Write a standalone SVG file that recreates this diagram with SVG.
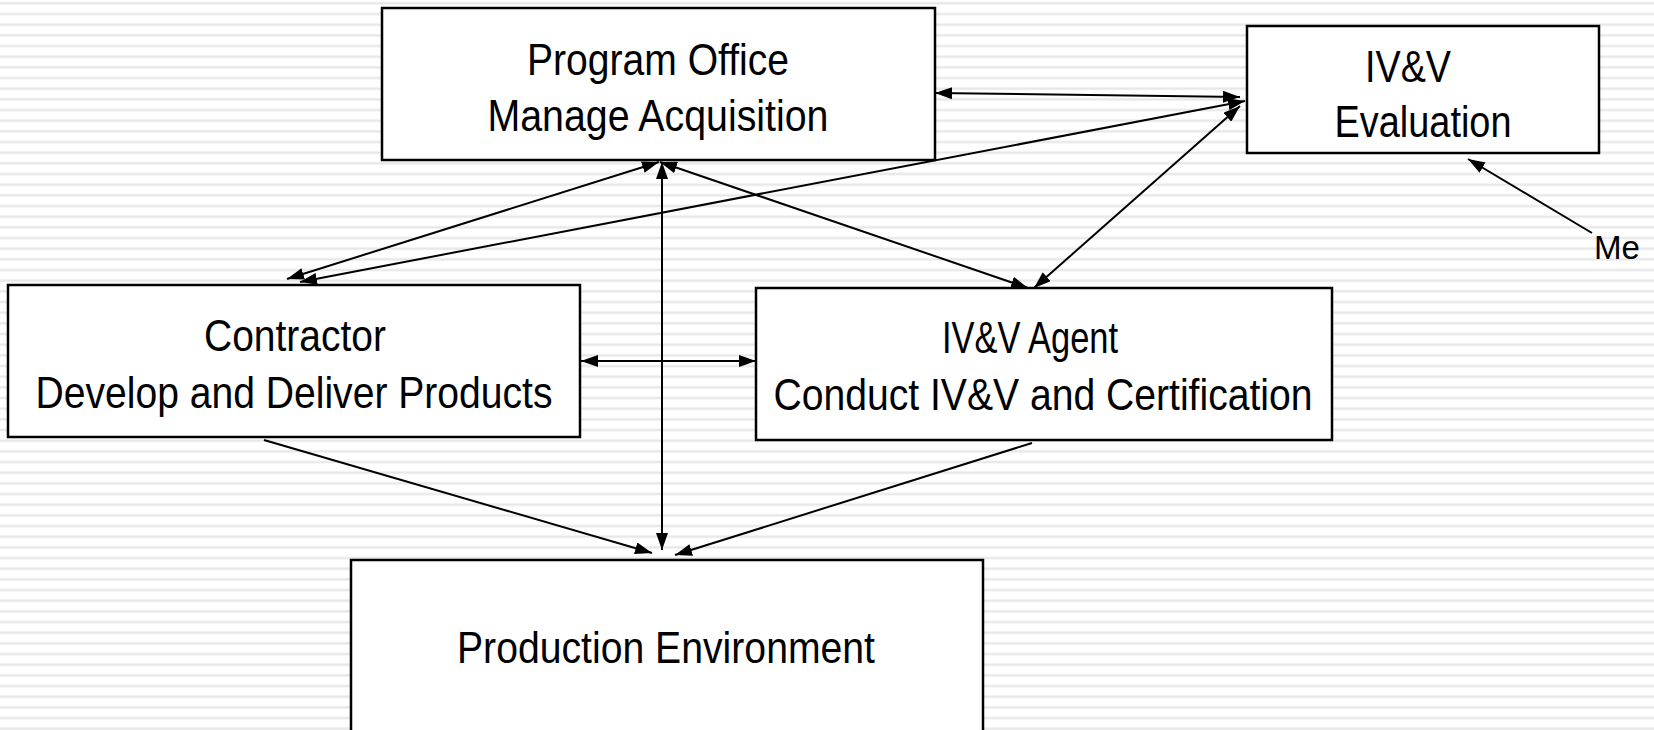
<svg xmlns="http://www.w3.org/2000/svg" width="1654" height="730" viewBox="0 0 1654 730">
<defs>
<pattern id="stripes" x="0" y="0" width="20" height="10.667" patternUnits="userSpaceOnUse">
<rect x="0" y="0" width="20" height="10.667" fill="#ffffff"/>
<rect x="0" y="1.8" width="20" height="3" fill="#f4f4f4"/>
<rect x="0" y="2.6" width="20" height="1.5" fill="#e6e6e6"/>
</pattern>
<marker id="arr" viewBox="0 0 17 12" refX="17" refY="6" markerWidth="17" markerHeight="12" markerUnits="userSpaceOnUse" orient="auto-start-reverse">
<path d="M0,0 L17,6 L0,12 z" fill="#000"/>
</marker>
<style>
.box{fill:#fff;stroke:#000;stroke-width:2.5}
.lbl{font-family:"Liberation Sans Narrow","Liberation Sans",Arial,sans-serif;font-size:45px;fill:#000;text-anchor:middle}
.me{font-family:"Liberation Sans Narrow","Liberation Sans",Arial,sans-serif;font-size:34px;fill:#000}
.c{stroke:#000;stroke-width:2;fill:none}
.both{marker-start:url(#arr);marker-end:url(#arr)}
.end{marker-end:url(#arr)}
</style>
</defs>
<rect x="0" y="0" width="1654" height="730" fill="url(#stripes)"/>

<g id="program-office">
<rect class="box" x="382" y="8" width="553" height="152"/>
<text class="lbl" x="658" y="75" textLength="262" lengthAdjust="spacingAndGlyphs">Program Office</text>
<text class="lbl" x="658" y="131" textLength="341" lengthAdjust="spacingAndGlyphs">Manage Acquisition</text>
</g>

<g id="ivv-evaluation">
<rect class="box" x="1247" y="26" width="352" height="127"/>
<text class="lbl" x="1408" y="82" textLength="86" lengthAdjust="spacingAndGlyphs">IV&amp;V</text>
<text class="lbl" x="1423" y="137" textLength="177" lengthAdjust="spacingAndGlyphs">Evaluation</text>
</g>

<g id="contractor">
<rect class="box" x="8" y="285" width="572" height="152"/>
<text class="lbl" x="295" y="351" textLength="182" lengthAdjust="spacingAndGlyphs">Contractor</text>
<text class="lbl" x="294" y="408" textLength="517" lengthAdjust="spacingAndGlyphs">Develop and Deliver Products</text>
</g>

<g id="ivv-agent">
<rect class="box" x="756" y="288" width="576" height="152"/>
<text class="lbl" x="1030" y="353" textLength="176" lengthAdjust="spacingAndGlyphs">IV&amp;V Agent</text>
<text class="lbl" x="1043" y="410" textLength="539" lengthAdjust="spacingAndGlyphs">Conduct IV&amp;V and Certification</text>
</g>

<g id="production-environment">
<rect class="box" x="351" y="560" width="632" height="175"/>
<text class="lbl" x="666" y="663" textLength="418" lengthAdjust="spacingAndGlyphs">Production Environment</text>
</g>

<g id="me-label">
<text class="me" x="1594" y="259" textLength="46" lengthAdjust="spacingAndGlyphs">Me</text>
</g>

<g id="connectors">
<line class="c both" x1="935" y1="93" x2="1240" y2="97"/>
<line class="c both" x1="300" y1="282" x2="1245" y2="101"/>
<line class="c both" x1="659" y1="162" x2="287" y2="279"/>
<line class="c both" x1="662" y1="162" x2="662" y2="550"/>
<line class="c both" x1="660" y1="162" x2="1028" y2="288"/>
<line class="c both" x1="1034" y1="288" x2="1240" y2="106"/>
<line class="c both" x1="581" y1="361" x2="756" y2="361"/>
<line class="c end" x1="264" y1="440" x2="652" y2="553"/>
<line class="c end" x1="1032" y1="443" x2="675" y2="555"/>
<line class="c end" x1="1592" y1="233" x2="1468" y2="159"/>
</g>
</svg>
